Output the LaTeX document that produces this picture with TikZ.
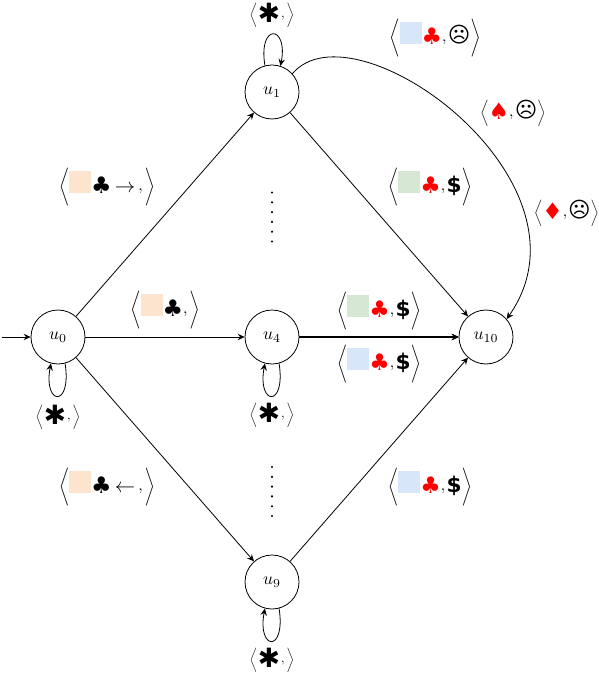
\documentclass[tikz,border=0pt]{standalone}
\usepackage{fontspec}
\usepackage{amsmath}
\usepackage{graphicx}
\usetikzlibrary{arrows.meta}
\newfontfamily\symf{DejaVu Sans}
\newfontfamily\symb{DejaVu Sans Bold}
\definecolor{cellblue}{HTML}{D8E6F9}
\definecolor{cellgreen}{HTML}{D6E7D4}
\definecolor{cellorange}{HTML}{FCE4CE}
\newcommand{\cell}[1]{\textcolor{#1}{\rule[-2.4pt]{17.3pt}{17.3pt}}}
\newcommand{\sym}[1]{\raisebox{-3pt}{\fontsize{18}{18}\selectfont\symf #1}}
\newcommand{\rsym}[1]{\textcolor{red}{\sym{#1}}}
\newcommand{\dollarsign}{\raisebox{-1.5pt}{\fontsize{17}{17}\selectfont\symb \$}}
\newcommand{\sadface}{\raisebox{-1pt}{\fontsize{17}{17}\selectfont\symf ☹}}
\newcommand{\lb}{$\Bigg\langle$}
\newcommand{\rb}{$\Bigg\rangle$}
\newcommand{\lbs}{$\vcenter{\hbox{\scalebox{.87}{$\bigg\langle$}}}$}
\newcommand{\rbs}{$\vcenter{\hbox{\scalebox{.87}{$\bigg\rangle$}}}$}
\newcommand{\comma}{\scalebox{1.25}{$,$}}
\newcommand{\arr}[1]{\kern2.5pt\raisebox{-1.6pt}{\scalebox{1.6}{$#1$}}\kern2.5pt}
\newcommand{\stname}[1]{\scalebox{1.75}{$#1$}}
\tikzset{
  state/.style={draw,circle,minimum size=54pt,inner sep=0pt,line width=.8pt},
  lab/.style={inner sep=0pt,scale=1.27},
  starlab/.style={inner sep=0pt,scale=1.02},
  edge/.style={-{Stealth[length=7pt,width=6.5pt,inset=2.5pt]},line width=.8pt},
  dot/.style={circle,fill=black,inner sep=0pt,minimum size=2.4pt}
}
\newcommand{\starlabel}{$\bigg\langle$\kern.5pt\raisebox{-4.4pt}{\fontsize{26}{26}\selectfont\symb ✱}\kern1pt\scalebox{1.25}{$,$}\kern2pt$\bigg\rangle$}
\begin{document}
\begin{tikzpicture}[x=1pt,y=-1pt]
\useasboundingbox (0,0) rectangle (598,676);
\node[state] (u0) at (58,337) {\stname{u_0}};
\node[state] (u1) at (272,92) {\stname{u_1}};
\node[state] (u4) at (272,337) {\stname{u_4}};
\node[state] (u9) at (272,582) {\stname{u_9}};
\node[state] (u10) at (486,337) {\stname{u_{10}}};
\coordinate (init) at (2,337);
\draw[edge] (init) -- (u0);
\draw[edge] (u0) -- (u1);
\draw[edge] (u0) -- (u4);
\draw[edge] (u0) -- (u9);
\draw[edge] (u1) -- (u10);
\draw[edge] ([yshift=-.15pt]u4.east) -- ([yshift=-.15pt]u10.west);
\draw[edge] ([yshift=.15pt]u4.east) -- ([yshift=.15pt]u10.west);
\draw[edge] (u9) -- (u10);
\draw[edge] (u1.42) .. controls +(62,-73) and +(97,-138) .. (u10.41);
\draw[edge] (u1.105) .. controls +(-7,-43) and +(8,-41) .. (u1.72);
\draw[edge] (u0.-75) .. controls +(7,45) and +(-8,42) .. (u0.-105);
\draw[edge] (u4.-75) .. controls +(7,45) and +(-8,42) .. (u4.-105);
\draw[edge] (u9.-75) .. controls +(7,45) and +(-8,42) .. (u9.-105);
\node[starlab] (s1) at (272,15) {\starlabel};
\node[starlab] (s0) at (58,417) {\starlabel};
\node[starlab] (s4) at (272,415) {\starlabel};
\node[starlab] (s9) at (272,660) {\starlabel};
\node[lab] (a) at (435,38) {\lb\cell{cellblue}\rsym{♣}\comma\kern1pt\sadface\rb};
\node[lab] (b) at (513,113) {\lbs\rsym{♠}\comma\kern1pt\sadface\rbs};
\node[lab] (c) at (430,187) {\lb\cell{cellgreen}\rsym{♣}\comma\kern1pt\dollarsign\rb};
\node[lab] (d) at (566.5,213) {\lbs\rsym{♦}\comma\kern.5pt\sadface\rbs};
\node[lab] (e) at (107,187) {\lb\cell{cellorange}\sym{♣}\arr{\rightarrow}\comma\kern1.5pt\rb};
\node[lab] (f) at (165,310) {\lb\cell{cellorange}\sym{♣}\comma\kern1.5pt\rb};
\node[lab] (g) at (107,487) {\lb\cell{cellorange}\sym{♣}\arr{\leftarrow}\comma\kern1.5pt\rb};
\node[lab] (h) at (379,311) {\lb\cell{cellgreen}\rsym{♣}\comma\kern1pt\dollarsign\rb};
\node[lab] (i) at (379,364) {\lb\cell{cellblue}\rsym{♣}\comma\kern1pt\dollarsign\rb};
\node[lab] (j) at (430,487) {\lb\cell{cellblue}\rsym{♣}\comma\kern1pt\dollarsign\rb};
\foreach \i in {0,...,5} {
  \node[dot] (p\i) at (272,192.5+\i*9.8) {};
  \node[dot] (q\i) at (272,467+\i*9.8) {};
}
\end{tikzpicture}
\end{document}
